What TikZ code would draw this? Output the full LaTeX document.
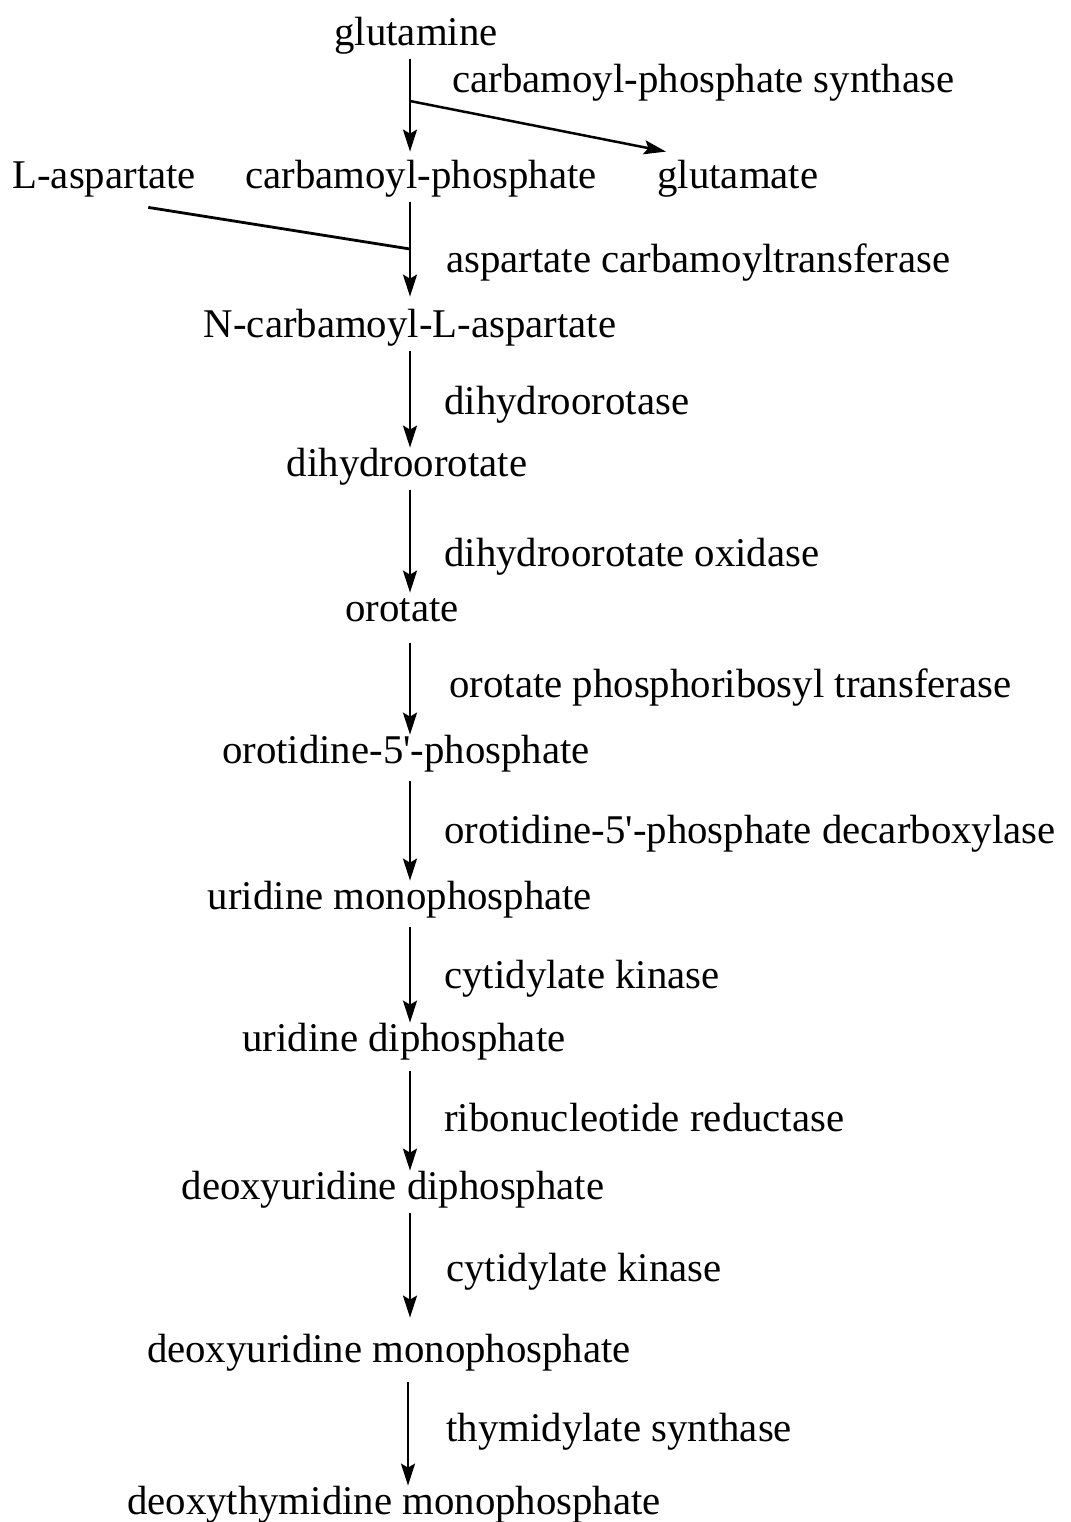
\documentclass[tikz,border=0pt]{standalone}
\usepackage{fontspec}
\setmainfont{Liberation Serif}
\usetikzlibrary{arrows.meta}
\begin{document}
\begin{tikzpicture}[x=0.5pt,y=-0.5pt,
  mol/.style={anchor=base,inner sep=0pt,text height=14pt,text depth=7pt,font=\fontsize{20.4}{24}\selectfont},
  enz/.style={anchor=base west,inner sep=0pt,font=\fontsize{20.4}{24}\selectfont},
  arr/.style={line width=1.25pt,-{Stealth[length=11pt,width=7pt,inset=2pt]}},
  ln/.style={line width=1.4pt}]
\useasboundingbox (0,0) rectangle (1071,1522);
\coordinate (ax) at (410,0);
% molecules
\node[mol] (gln) at (416,45) {glutamine};
\node[mol] (cp) at (421,188) {carbamoyl-phosphate};
\node[mol,anchor=base west] (lasp) at (12,188) {L-aspartate};
\node[mol,anchor=base west] (glu) at (657,188) {glutamate};
\node[mol] (nca) at (410,337) {N-carbamoyl-L-aspartate};
\node[mol] (dho) at (407,476) {dihydroorotate};
\node[mol] (oro) at (402,621) {orotate};
\node[mol] (omp) at (406,763) {orotidine-5\textquotesingle-phosphate};
\node[mol] (ump) at (400,909) {uridine monophosphate};
\node[mol] (udp) at (404,1051) {uridine diphosphate};
\node[mol] (dudp) at (393,1199) {deoxyuridine diphosphate};
\node[mol] (dump) at (389,1362) {deoxyuridine monophosphate};
\node[mol] (dtmp) at (394,1514) {deoxythymidine monophosphate};
% enzymes
\node[enz] (e1) at (452,92) {carbamoyl-phosphate synthase};
\node[enz] (e2) at (446,272) {aspartate carbamoyltransferase};
\node[enz] (e3) at (444,414) {dihydroorotase};
\node[enz] (e4) at (444,566) {dihydroorotate oxidase};
\node[enz] (e5) at (449,697) {orotate phosphoribosyl transferase};
\node[enz] (e6) at (444,843) {orotidine-5\textquotesingle-phosphate decarboxylase};
\node[enz] (e7) at (444,988) {cytidylate kinase};
\node[enz] (e8) at (444,1131) {ribonucleotide reductase};
\node[enz] (e9) at (446,1281) {cytidylate kinase};
\node[enz] (e10) at (446,1441) {thymidylate synthase};
% connectors
\draw[arr,shorten >=4pt] (gln.south -| ax) -- (cp.north -| ax);
\coordinate (b1) at (410,101);
\draw[arr] (b1) -- ([shift={(9,-8)}]glu.north west);
\draw[arr,shorten >=6pt] (cp.south -| ax) -- (nca.north -| ax);
\coordinate (j2) at (410,249);
\draw[ln] ([shift={(-48,5)}]lasp.south east) -- (j2);
\draw[arr] (nca.south -| ax) -- (dho.north -| ax);
\draw[arr] (dho.south -| ax) -- (oro.north -| ax);
\draw[arr,shorten <=4pt] (oro.south -| ax) -- (omp.north -| ax);
\draw[arr,shorten <=2pt] (omp.south -| ax) -- (ump.north -| ax);
\draw[arr,shorten <=2pt] (ump.south -| ax) -- (udp.north -| ax);
\draw[arr,shorten <=3pt] (udp.south -| ax) -- (dudp.north -| ax);
\draw[arr,shorten >=8pt] (dudp.south -| ax) -- (dump.north -| ax);
\coordinate (ax2) at (408,0);
\draw[arr,shorten <=3pt] (dump.south -| ax2) -- (dtmp.north -| ax2);
\end{tikzpicture}
\end{document}
